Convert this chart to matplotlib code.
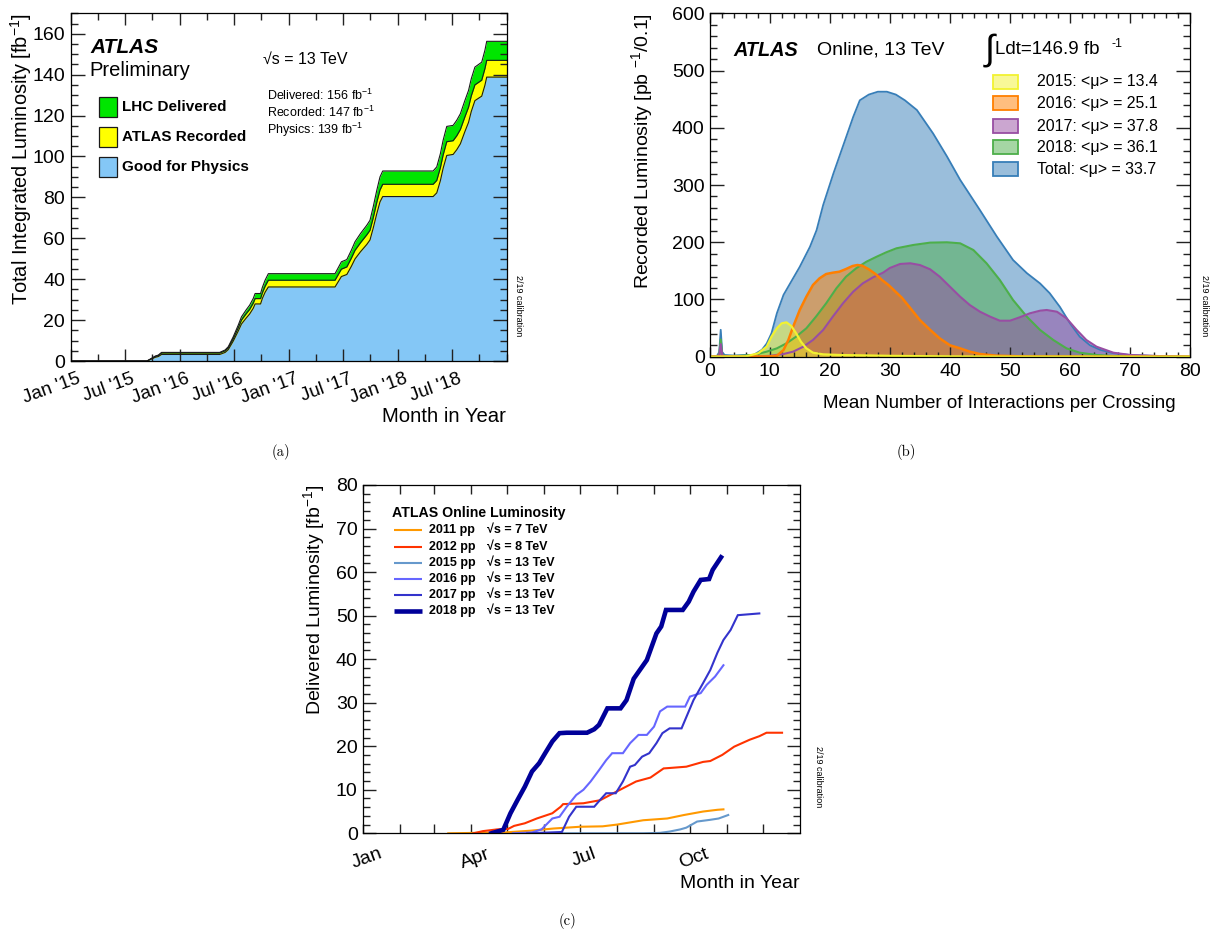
import matplotlib
matplotlib.use("Agg")
import matplotlib.pyplot as plt
import matplotlib.transforms as mtrans
from matplotlib.patches import Rectangle
from matplotlib.lines import Line2D
from matplotlib.ticker import MultipleLocator, FixedLocator, NullFormatter

plt.rcParams['font.family'] = ['Liberation Sans', 'DejaVu Sans']
plt.rcParams['mathtext.fontset'] = 'custom'
plt.rcParams['mathtext.rm'] = 'Liberation Sans'

W, H = 1210, 931

# ---- (a) cumulative luminosity vs time (months since Jan 2015) ----
months_a = [0, 8.4, 8.9, 9.3, 9.65, 10.0, 16.4, 17.0, 17.35, 17.9, 18.45, 18.8, 19.3,
            19.7, 20.1, 20.3, 20.9, 21.1, 21.4, 21.76, 29.1, 29.5, 29.8, 30.4, 30.9,
            31.3, 31.9, 32.6, 32.95, 33.3, 33.7, 34.05, 34.35, 39.9, 40.3, 40.7, 41.0,
            41.4, 42.1, 42.5, 42.9, 43.4, 43.8, 44.1, 44.5, 45.25, 45.6, 45.8, 48]
delivered_a = [0, 0, 1.3, 2.4, 2.9, 4.2, 4.2, 5.4, 7.0, 11.9, 17.6, 21.6, 24.9, 27.3,
               30.6, 33.0, 33.0, 36.0, 39.5, 42.7, 42.7, 46.0, 48.5, 49.6, 54.2, 58.3,
               62.3, 66.4, 68.8, 75.3, 83.5, 90.0, 92.9, 92.9, 94.9, 101.4, 107.9, 114.7,
               115.2, 117.7, 120.9, 127.4, 132.3, 138.0, 143.7, 146.1, 151.9, 156.3, 156.3]
recorded_a = [0, 0, 1.2, 2.2, 2.7, 3.9, 3.9, 5.0, 6.5, 11.0, 16.3, 20.0, 23.0, 25.2,
              28.3, 30.5, 30.5, 33.3, 36.5, 39.5, 39.5, 42.6, 44.9, 46.0, 50.3, 54.1,
              57.8, 61.7, 63.9, 69.9, 77.6, 83.6, 86.4, 86.4, 88.3, 94.5, 100.7, 107.2,
              107.7, 110.1, 113.2, 119.4, 124.1, 129.6, 135.0, 137.3, 142.9, 147.0, 147.0]
physics_a = [0, 0, 1.0, 1.8, 2.2, 3.2, 3.2, 4.2, 5.6, 9.8, 14.7, 18.1, 20.9, 23.0,
             25.8, 27.9, 27.9, 30.6, 33.6, 36.2, 36.2, 39.1, 41.3, 42.3, 46.3, 49.9,
             53.4, 57.0, 59.2, 64.9, 72.1, 77.8, 80.4, 80.4, 82.2, 88.2, 94.2, 100.5,
             101.0, 103.3, 106.2, 112.2, 116.7, 122.0, 127.3, 129.5, 134.8, 138.8, 138.8]
month_ticks_a = [0, 6, 12, 18, 24, 30, 36, 42]
month_labels_a = ["Jan '15", "Jul '15", "Jan '16", "Jul '16", "Jan '17", "Jul '17",
                  "Jan '18", "Jul '18"]

# ---- (b) pile-up distributions ----
mu_total = [0, 1.2, 1.6, 1.85, 2.1, 2.5, 4, 6, 7.3, 8.7, 9.5, 10.3, 11.2, 12.3, 13.4,
            15.0, 16.7, 17.8, 18.9, 20.6, 22.0, 23.9, 25.0, 26.5, 28.0, 29.5, 31.0,
            32.5, 34.5, 37.2, 39.5, 41.7, 45.0, 47.8, 50.5, 52.8, 55.0, 56.6, 58.3,
            60.0, 61.6, 63.3, 65.0, 67.2, 70.0, 75.0, 80.0]
rec_total = [0, 1, 8, 47, 8, 3, 2, 3, 3, 12, 23, 41, 76, 108, 128, 157, 192, 221,
             265, 320, 362, 419, 448, 458, 463, 463, 458, 448, 431, 390, 350, 309,
             256, 210, 169, 146, 128, 111, 87, 58, 35, 20, 12, 6, 3, 1, 0]
mu_2018 = [0, 1.2, 1.6, 1.85, 2.1, 2.5, 5, 7.3, 9.5, 11.2, 12.8, 14.4, 16.1, 17.7, 19.4,
           21.1, 22.7, 24.4, 26.1, 27.8, 29.4, 31.1, 33.9, 36.7, 39.5, 41.7, 43.9, 46.1,
           48.3, 50.5, 52.8, 55.0, 57.2, 59.4, 61.6, 64.4, 67.2, 72, 80]
rec_2018 = [0, 0.5, 4, 30, 4, 1, 1.5, 3, 8.8, 14.6, 23.4, 35, 49.6, 69.9, 93.3, 119.5,
            139.8, 154.5, 166, 174.7, 182.4, 189.4, 195.2, 199.3, 199.9, 198.1, 186.4,
            163.1, 134, 99.1, 69.9, 46.7, 29.2, 14.6, 7, 3, 1.2, 0.3, 0]
mu_2017 = [0, 1.2, 1.6, 1.85, 2.1, 2.5, 8, 10, 12.3, 13.9, 15.6, 17.2, 18.9, 20.5, 22.2,
           23.9, 25.5, 27.2, 28.9, 30.0, 31.7, 33.4, 35.0, 36.7, 38.3, 40.0, 41.7, 43.3,
           45.0, 46.7, 48.3, 50.0, 51.6, 53.3, 55.0, 56.1, 57.8, 59.4, 61.1, 62.7, 64.4,
           67.2, 70, 75, 80]
rec_2017 = [0, 0.5, 3, 22, 3, 0.5, 0.5, 1.5, 4.7, 8.8, 17.5, 29.2, 46.7, 69.9, 93.3,
            113.6, 128.2, 138.7, 147, 155, 162, 163.2, 160.2, 152.7, 139.8, 122.3, 104.8,
            90.3, 78.6, 69.9, 62.9, 62.9, 68.8, 75.8, 80.4, 81.6, 78.6, 67.1, 46.7, 29.2,
            17.5, 7, 3, 1, 0]
mu_2016 = [0, 10, 11.2, 12.3, 13.1, 13.9, 15.0, 16.1, 17.2, 18.3, 19.4, 20.5, 21.6, 22.7,
           23.8, 24.6, 25.4, 26.5, 27.6, 28.7, 29.8, 31.0, 32.0, 33.4, 35.0, 36.7, 38.3,
           40.0, 41.7, 43.3, 45.0, 47.7, 52, 60, 80]
rec_2016 = [0, 0.5, 1.7, 11.7, 29, 52.4, 81.6, 104.8, 125.3, 137, 144.5, 146.8, 148.5,
            153.2, 158.5, 160.2, 159, 152.7, 144.5, 134, 125, 113, 103, 85, 64, 47, 32,
            20, 14.6, 8.8, 4.7, 1.8, 0.5, 0.2, 0]
mu_2015 = [0, 6, 8.1, 9.5, 10.3, 11.2, 12.0, 12.8, 13.6, 14.4, 15.2, 16.1, 17.2, 18.9,
           21.6, 30, 40, 50, 80]
rec_2015 = [0, 0.5, 6, 17.5, 35, 49.6, 58.3, 60, 53.6, 40.9, 26.2, 14.6, 7, 4.1, 3,
            1.5, 0.5, 0.1, 0]
mu_labels = ["2015: <\u03bc> = 13.4", "2016: <\u03bc> = 25.1", "2017: <\u03bc> = 37.8",
             "2018: <\u03bc> = 36.1", "Total: <\u03bc> = 33.7"]

# ---- (c) delivered luminosity per year vs day of year ----
days_2011 = [71, 118, 140, 159, 181, 200, 212, 234, 254, 268, 284, 296, 301]
del_2011 = [0, 0.2, 0.6, 1.1, 1.5, 1.6, 2.0, 3.0, 3.4, 4.2, 5.0, 5.4, 5.5]
days_2012 = [92, 100, 112, 121, 126, 135, 145, 158, 165, 167, 184, 198, 209, 228, 240,
             251, 256, 270, 284, 290, 300, 310, 323, 331, 337, 350]
del_2012 = [0, 0.5, 0.9, 1.0, 1.7, 2.3, 3.4, 4.6, 6.1, 6.7, 6.9, 7.6, 9.2, 11.9, 12.8,
            14.9, 15.0, 15.3, 16.4, 16.6, 18.0, 19.9, 21.5, 22.3, 23.1, 23.1]
days_2015 = [150, 234, 248, 256, 265, 270, 279, 290, 297, 305]
del_2015 = [0, 0, 0.1, 0.4, 0.9, 1.3, 2.7, 3.1, 3.4, 4.2]
days_2016 = [125, 141, 149, 158, 164, 170, 178, 184, 190, 197, 203, 208, 217, 223, 230,
             237, 243, 248, 254, 269, 273, 282, 287, 294, 301]
del_2016 = [0, 0.2, 0.9, 3.4, 3.8, 6.1, 8.8, 10.0, 11.9, 14.5, 16.8, 18.4, 18.4, 20.7,
            22.6, 22.6, 24.5, 28.0, 29.1, 29.1, 31.4, 32.2, 34.1, 36.0, 38.6]
days_2017 = [137, 166, 172, 178, 193, 198, 203, 211, 217, 223, 227, 233, 239, 245, 250,
             256, 266, 276, 284, 290, 296, 301, 307, 313, 322, 331]
del_2017 = [0, 0.3, 3.8, 6.1, 6.1, 7.7, 9.2, 9.2, 11.9, 15.3, 15.7, 17.6, 18.4, 20.7,
            23.0, 24.1, 24.1, 30.6, 34.5, 37.5, 41.5, 44.4, 46.7, 50.1, 50.3, 50.5]
days_2018 = [107, 117, 123, 129, 135, 141, 147, 152, 158, 164, 170, 187, 193, 197, 204,
             215, 220, 226, 237, 245, 249, 253, 267, 272, 276, 282, 289, 292, 299]
del_2018 = [0, 0.8, 4.6, 7.7, 10.7, 14.2, 16.1, 18.4, 21.1, 23.0, 23.1, 23.1, 23.9,
            24.9, 28.7, 28.7, 30.6, 35.5, 39.8, 45.9, 47.5, 51.3, 51.3, 53.2, 55.5, 58.2,
            58.4, 60.5, 63.4]
month_starts = [0, 31, 59, 90, 120, 151, 181, 212, 243, 273, 304, 334]
month_labels_c = {0: "Jan", 90: "Apr", 181: "Jul", 273: "Oct"}
year_labels = ["2011 pp", "2012 pp", "2015 pp", "2016 pp", "2017 pp", "2018 pp"]
energy_labels = ["\u221as = 7 TeV", "\u221as = 8 TeV", "\u221as = 13 TeV",
                 "\u221as = 13 TeV", "\u221as = 13 TeV", "\u221as = 13 TeV"]


def fx(x):
    return x / W


def fy(y):
    return 1 - y / H


def pt(px):
    return px * 0.72


def ticks(ax, axis, major, minor, **label_kw):
    # ROOT-style inward ticks on all four sides
    ax.tick_params(axis=axis, which='major', direction='in', bottom=True, top=True,
                   left=True, right=True, length=pt(major), width=1.0, color='#222222',
                   **label_kw)
    ax.tick_params(axis=axis, which='minor', direction='in', bottom=True, top=True,
                   left=True, right=True, length=pt(minor), width=1.0, color='#222222')


fig = plt.figure(figsize=(12.1, 9.31), dpi=100)

# ================= (a) =================
ax_a = fig.add_axes([fx(70.7), fy(361), 436 / W, 347.7 / H])
ax_a.fill_between(months_a, delivered_a, color='#00e600', lw=0)
ax_a.plot(months_a, delivered_a, color='#1a1a1a', lw=0.8)
ax_a.fill_between(months_a, recorded_a, color='#ffff00', lw=0)
ax_a.plot(months_a, recorded_a, color='#1a1a1a', lw=0.8)
ax_a.fill_between(months_a, physics_a, color='#84c7f6', lw=0)
ax_a.plot(months_a, physics_a, color='#1a1a1a', lw=0.8)
ax_a.set_xlim(0, 48)
ax_a.set_ylim(0, 170)
ax_a.xaxis.set_major_locator(FixedLocator(month_ticks_a))
ax_a.xaxis.set_minor_locator(MultipleLocator(3))
ax_a.xaxis.set_major_formatter(NullFormatter())
ax_a.yaxis.set_major_locator(MultipleLocator(20))
ax_a.yaxis.set_minor_locator(MultipleLocator(5))
ticks(ax_a, 'x', 12, 7)
ticks(ax_a, 'y', 14, 7, pad=4, labelsize=14)
off_a = mtrans.ScaledTranslation(6 / 100, -9 / 100, fig.dpi_scale_trans)
for m, lab in zip(month_ticks_a, month_labels_a):
    ax_a.text(m, 0, lab, transform=ax_a.get_xaxis_transform() + off_a, rotation=20,
              rotation_mode='anchor', ha='right', va='top', fontsize=13.5)
fig.text(fx(21), fy(13), 'Total Integrated Luminosity [fb$^{-1}$]', rotation=90,
         ha='center', va='top', fontsize=14.4)
fig.text(fx(506), fy(417), 'Month in Year', ha='right', va='center', fontsize=14.6)

fig.text(fx(90), fy(47.5), 'ATLAS', fontsize=15, fontweight='bold', fontstyle='italic',
         va='center')
fig.text(fx(89), fy(70.5), 'Preliminary', fontsize=14.5, va='center')
fig.text(fx(263), fy(59), '\u221as = 13 TeV', fontsize=11.5, va='center')
fig.text(fx(267), fy(95), 'Delivered: 156 fb$^{-1}$', fontsize=9, va='center')
fig.text(fx(267), fy(112.5), 'Recorded: 147 fb$^{-1}$', fontsize=9, va='center')
fig.text(fx(267), fy(129.5), 'Physics: 139 fb$^{-1}$', fontsize=9, va='center')
leg_a = [('LHC Delivered', '#00e600', 96.5), ('ATLAS Recorded', '#ffff00', 126.7),
         ('Good for Physics', '#84c7f6', 156.7)]
for lab, col, top in leg_a:
    fig.add_artist(Rectangle((fx(99), fy(top + 20.7)), 18.3 / W, 20.7 / H,
                             transform=fig.transFigure, facecolor=col,
                             edgecolor='#1a1a1a', lw=0.9))
    fig.text(fx(121.7), fy(top + 10.5), lab, fontsize=11, fontweight='bold', va='center')
fig.text(fx(518), fy(306), '2/19 calibration', rotation=-90, fontsize=6.5,
         ha='center', va='center')

# ================= (b) =================
ax_b = fig.add_axes([fx(709.6), fy(356.7), 480.7 / W, 343.4 / H])
series_b = [(mu_total, rec_total, '#377eb8', 1.3),
            (mu_2018, rec_2018, '#4daf4a', 1.5),
            (mu_2017, rec_2017, '#984ea3', 1.5),
            (mu_2016, rec_2016, '#ff7f00', 1.8),
            (mu_2015, rec_2015, '#f2f230', 1.6)]
for mu, val, col, lw in series_b:
    ax_b.fill_between(mu, val, color=col, alpha=0.5, lw=0)
    ax_b.plot(mu, val, color=col, lw=lw)
ax_b.set_xlim(0, 80)
ax_b.set_ylim(0, 600)
ax_b.xaxis.set_major_locator(MultipleLocator(10))
ax_b.xaxis.set_minor_locator(MultipleLocator(2))
ax_b.yaxis.set_major_locator(MultipleLocator(100))
ax_b.yaxis.set_minor_locator(MultipleLocator(20))
ticks(ax_b, 'x', 10, 5, pad=4.5, labelsize=14)
ticks(ax_b, 'y', 14, 7, pad=3.5, labelsize=14)
fig.text(fx(642.5), fy(13), 'Recorded Luminosity [pb $^{-1}$/0.1]', rotation=90,
         ha='center', va='top', fontsize=14)
fig.text(fx(1176), fy(404), 'Mean Number of Interactions per Crossing', ha='right',
         va='center', fontsize=13.5)
fig.text(fx(733), fy(50), 'ATLAS', fontsize=14.3, fontweight='bold', fontstyle='italic',
         va='center')
fig.text(fx(817), fy(50), 'Online, 13 TeV', fontsize=14, va='center')
fig.text(fx(990), fy(50), '\u222b', fontsize=26, ha='center', va='center')
fig.text(fx(995), fy(50), 'Ldt=146.9 fb', fontsize=13.5, va='center')
fig.text(fx(1112), fy(44), '-1', fontsize=9, va='center')
leg_rows = [81.7, 103.3, 126, 147.3, 169.3]
for (mu, val, col, lw), row, lab in zip(series_b[::-1], leg_rows, mu_labels):
    fig.add_artist(Rectangle((fx(993.3), fy(row + 7)), 25 / W, 14 / H,
                             transform=fig.transFigure, facecolor=col, alpha=0.5, lw=0))
    fig.add_artist(Rectangle((fx(993.3), fy(row + 7)), 25 / W, 14 / H,
                             transform=fig.transFigure, facecolor='none', edgecolor=col,
                             lw=1.3))
    fig.text(fx(1036.7), fy(row), lab, fontsize=11.4, va='center')
fig.text(fx(1204), fy(306), '2/19 calibration', rotation=-90, fontsize=6.5,
         ha='center', va='center')

# ================= (c) =================
ax_c = fig.add_axes([fx(363.3), fy(833.3), 436.7 / W, 348.3 / H])
series_c = [(days_2011, del_2011, '#ff9900', 1.5),
            (days_2012, del_2012, '#ff3300', 1.5),
            (days_2015, del_2015, '#6699cc', 1.5),
            (days_2016, del_2016, '#6666ff', 1.5),
            (days_2017, del_2017, '#3333cc', 1.5),
            (days_2018, del_2018, '#000099', 3.3)]
for d, val, col, lw in series_c:
    ax_c.plot(d, val, color=col, lw=lw, solid_joinstyle='miter')
ax_c.set_xlim(0, 365)
ax_c.set_ylim(0, 80)
ax_c.xaxis.set_major_locator(FixedLocator(month_starts))
ax_c.xaxis.set_major_formatter(NullFormatter())
ax_c.yaxis.set_major_locator(MultipleLocator(10))
ax_c.yaxis.set_minor_locator(MultipleLocator(2))
ticks(ax_c, 'x', 9, 0)
ticks(ax_c, 'y', 13, 7, pad=4, labelsize=14)
off_c = mtrans.ScaledTranslation(4 / 100, -12 / 100, fig.dpi_scale_trans)
for d, lab in month_labels_c.items():
    ax_c.text(d, 0, lab, transform=ax_c.get_xaxis_transform() + off_c, rotation=20,
              ha='center', va='top', fontsize=14)
fig.text(fx(315), fy(485), 'Delivered Luminosity [fb$^{-1}$]', rotation=90,
         ha='center', va='top', fontsize=14)
fig.text(fx(800), fy(883), 'Month in Year', ha='right', va='center', fontsize=14)
fig.text(fx(392), fy(513), 'ATLAS Online Luminosity', fontsize=10.2, fontweight='bold',
         va='center')
rows_c = [530, 546.7, 562.7, 578.7, 594.7, 611.3]
for (d, val, col, lw), row, ylab, elab in zip(series_c, rows_c, year_labels, energy_labels):
    fig.add_artist(Line2D([fx(393.8), fx(422.2)], [fy(row), fy(row)], color=col, lw=lw,
                          solid_capstyle='butt'))
    fig.text(fx(429), fy(row), ylab, fontsize=9, fontweight='bold', va='center')
    fig.text(fx(487.3), fy(row), elab, fontsize=9, fontweight='bold', va='center')
fig.text(fx(818), fy(777), '2/19 calibration', rotation=-90, fontsize=6.5,
         ha='center', va='center')

# captions
for x, y, cap in [(281, 452, '(a)'), (906, 452, '(b)'), (567, 921, '(c)')]:
    fig.text(fx(x), fy(y), cap, fontfamily='cmr10', fontsize=10.5, ha='center',
             va='center')

for ax in (ax_a, ax_b, ax_c):
    for s in ax.spines.values():
        s.set_linewidth(0.9)

fig.savefig('out.png', dpi=100)
